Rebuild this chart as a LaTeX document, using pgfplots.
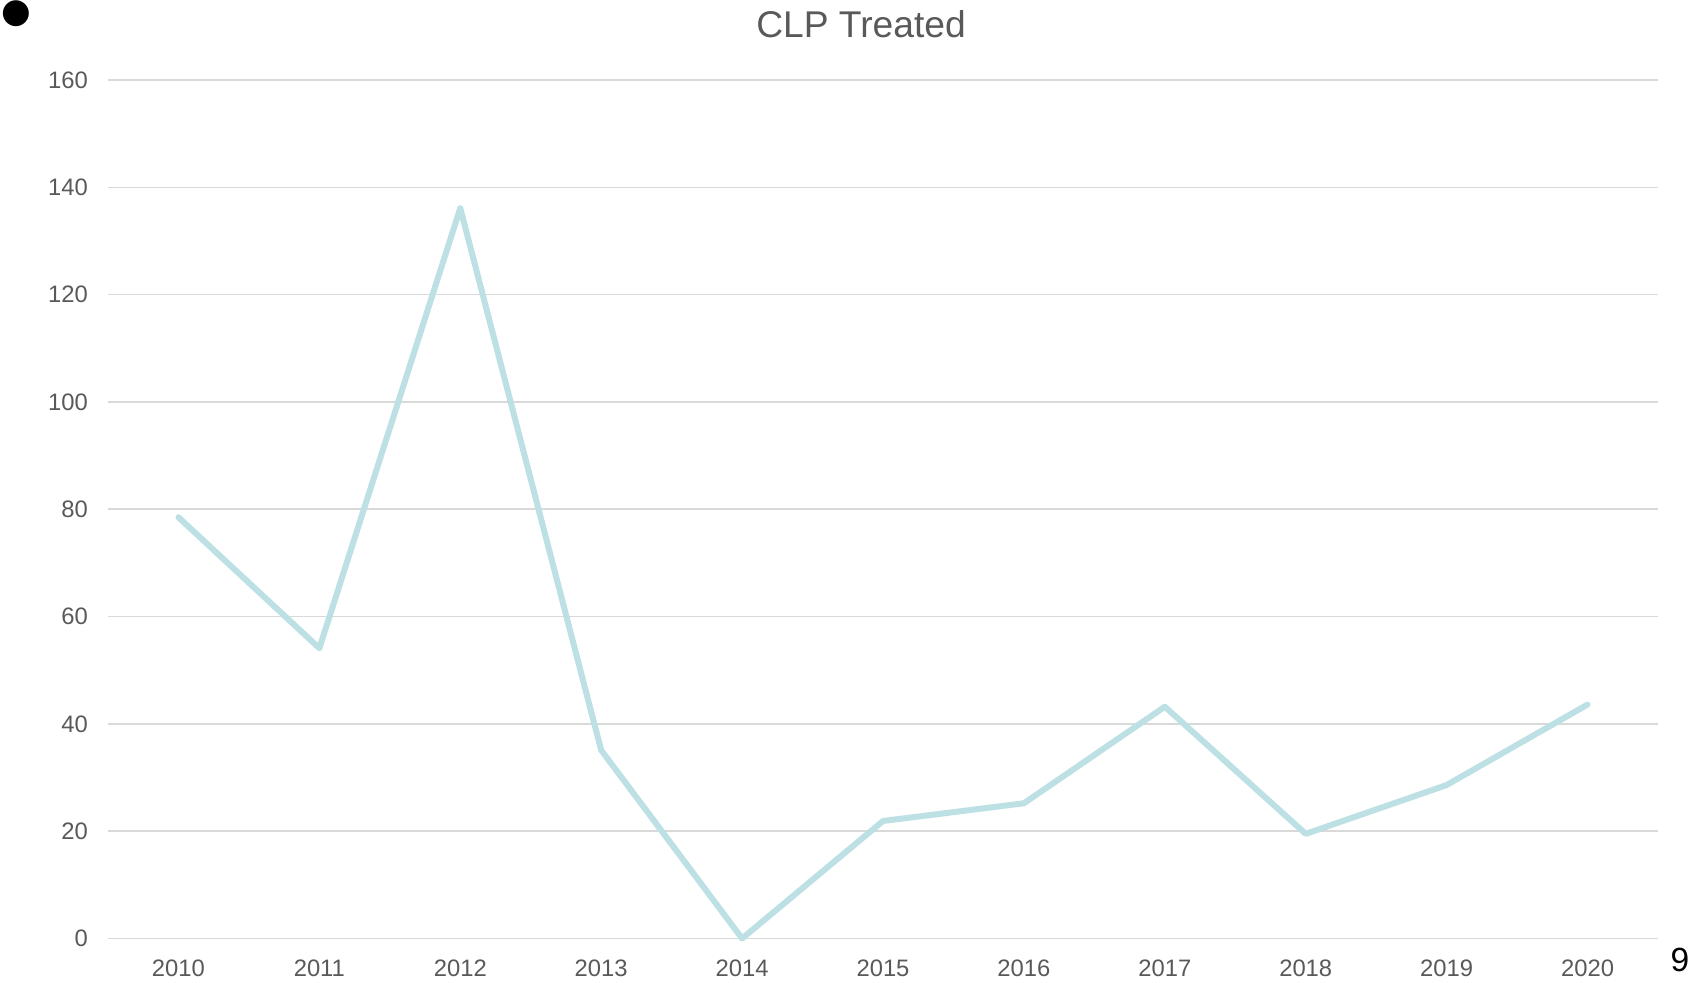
\documentclass[border=0pt]{standalone}
\usepackage{fontspec}
\setmainfont{Liberation Sans}
\newfontfamily\symfont{DejaVu Sans}
\usepackage{pgfplots}
\pgfplotsset{compat=1.18}
\definecolor{txtgray}{HTML}{595959}
\definecolor{gridgray}{HTML}{D9D9D9}
\definecolor{linecol}{HTML}{BCE0E3}
\begin{document}
\begin{tikzpicture}
\useasboundingbox (-54pt,-22.25pt) rectangle (796pt,469.25pt);
\begin{axis}[
  at={(0,0)}, anchor=south west,
  scale only axis,
  width=775pt, height=429.25pt,
  xmin=-0.5, xmax=10.5,
  ymin=0, ymax=160,
  xtick={0,...,10},
  xticklabels={2010,2011,2012,2013,2014,2015,2016,2017,2018,2019,2020},
  ytick={0,20,...,160},
  axis line style={draw=none},
  x axis line style={draw=none},
  major tick length=0pt,
  ymajorgrids,
  grid style={gridgray, line width=0.75pt},
  tick label style={font=\fontsize{11.9pt}{14pt}\selectfont, text=txtgray},
  /pgf/number format/assume math mode=true,
  yticklabel style={xshift=-6.5pt},
  xticklabel style={yshift=-7pt},
  clip=false,
]
\addplot[linecol, line width=3pt, line join=round, line cap=round] coordinates {
 (0,78.5) (1,54.1) (2,136.1) (3,35.1) (4,0) (5,21.9) (6,25.2) (7,43.2) (8,19.5) (9,28.6) (10,43.6)
};
\end{axis}
\node[anchor=base, text=txtgray, font=\fontsize{18.6pt}{22pt}\selectfont] at (376.5pt,450.25pt) {CLP Treated};
\node[anchor=base, font=\fontsize{16.75pt}{20pt}\selectfont, inner sep=0pt] at (786pt,-16.75pt) {9};
\node[anchor=center, inner sep=0pt, font=\symfont\fontsize{17pt}{20pt}\selectfont] at (-45.75pt,462.25pt) {●};
\end{tikzpicture}
\end{document}
